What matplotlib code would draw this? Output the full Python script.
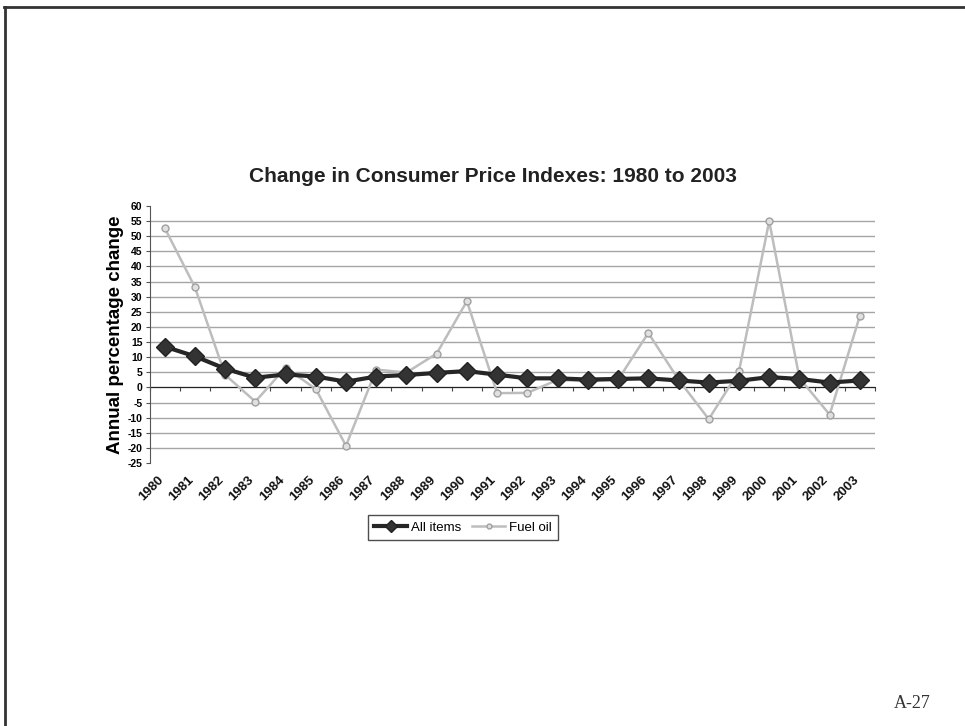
import numpy as np
import matplotlib
matplotlib.use("Agg")
import matplotlib.pyplot as plt
from matplotlib.lines import Line2D

plt.rcParams['font.family'] = ['Liberation Sans', 'DejaVu Sans']

# annual percentage change, 1980-2003
years = [str(y) for y in range(1980, 2004)]
all_items = [13.5, 10.3, 6.2, 3.2, 4.3, 3.6, 1.9, 3.6, 4.1, 4.8, 5.4, 4.2,
             3.0, 3.0, 2.6, 2.8, 3.0, 2.3, 1.6, 2.2, 3.4, 2.8, 1.6, 2.3]
fuel_oil = [52.8, 33.2, 4.2, -4.7, 6.5, -0.5, -19.3, 5.9, 4.9, 11.2, 28.5, -1.9,
            -1.8, 2.5, 2.0, 2.5, 18.0, 2.6, -10.5, 5.3, 55.0, 3.1, -9.0, 23.7]
y_ticks = list(range(-25, 65, 5))

fig = plt.figure(figsize=(9.65, 7.26), dpi=100)
fig.patch.set_facecolor('white')

# page frame lines (top and left)
fig.add_artist(Line2D([4 / 965, 1.0], [1 - 7 / 726, 1 - 7 / 726], color='#333333', lw=2))
fig.add_artist(Line2D([5 / 965, 5 / 965], [1 - 7 / 726, 0.0], color='#333333', lw=2))

ax = fig.add_axes([149.5 / 965, 1 - 463 / 726, (875 - 149.5) / 965, (463 - 206) / 726])
x = np.arange(len(years))

ax.plot(x, fuel_oil, color='#bdbdbd', lw=1.8, marker='o', ms=5,
        mfc='#e0e0e0', mec='#a0a0a0', mew=1, label='Fuel oil', zorder=3)
ax.plot(x, all_items, color='#262626', lw=3, marker='D', ms=9,
        mfc='#333333', mec='#222222', label='All items', zorder=4)

ax.set_xlim(-0.5, len(years) - 0.5)
ax.set_ylim(-25, 60)
ax.set_yticks(y_ticks)
ax.set_yticklabels([str(v) for v in y_ticks], fontsize=7.5, fontweight='bold')
ax.yaxis.grid(True, color='#a5a5a5', lw=1)
gls = ax.yaxis.get_gridlines()
gls[0].set_visible(False)
gls[-1].set_visible(False)
ax.set_axisbelow(True)

for s in ['top', 'right']:
    ax.spines[s].set_visible(False)
ax.spines['left'].set_color('#555555')
ax.spines['bottom'].set_position(('data', 0))
ax.spines['bottom'].set_color('#222222')
ax.spines['bottom'].set_zorder(2)
ax.set_xticks(np.arange(-0.5, len(years), 1))
ax.set_xticklabels([])
ax.tick_params(axis='x', length=3, color='#444444', direction='out')
ax.tick_params(axis='y', length=3, color='#555555', pad=2)

# category labels sit below the plot area
for i, yr in enumerate(years):
    ax.text(i - 0.1, -0.06, yr, transform=ax.get_xaxis_transform(),
            rotation=45, rotation_mode='anchor', ha='right', va='center',
            fontsize=9.5, fontweight='bold', color='#111111')

ax.set_ylabel('Annual percentage change', fontsize=13.5, fontweight='bold', labelpad=3)
fig.text(493 / 965, 1 - 177 / 726, 'Change in Consumer Price Indexes: 1980 to 2003',
         ha='center', va='center', fontsize=15, fontweight='bold', color='#222222')

handles, labels = ax.get_legend_handles_labels()
leg = fig.legend(handles[::-1], labels[::-1], loc='center', ncol=2,
                 bbox_to_anchor=(463 / 965, 1 - 527.5 / 726), fontsize=9.5,
                 frameon=True, fancybox=False, edgecolor='#222222',
                 handlelength=2.5, handletextpad=0.3, columnspacing=0.8,
                 borderpad=0.45, markerscale=0.7)
leg.get_frame().set_linewidth(1)

fig.text(912 / 965, 1 - 703 / 726, 'A-27', ha='center', va='center',
         fontsize=13, family='Liberation Serif', color='#333333')

fig.savefig('out.png', dpi=100, facecolor='white')
